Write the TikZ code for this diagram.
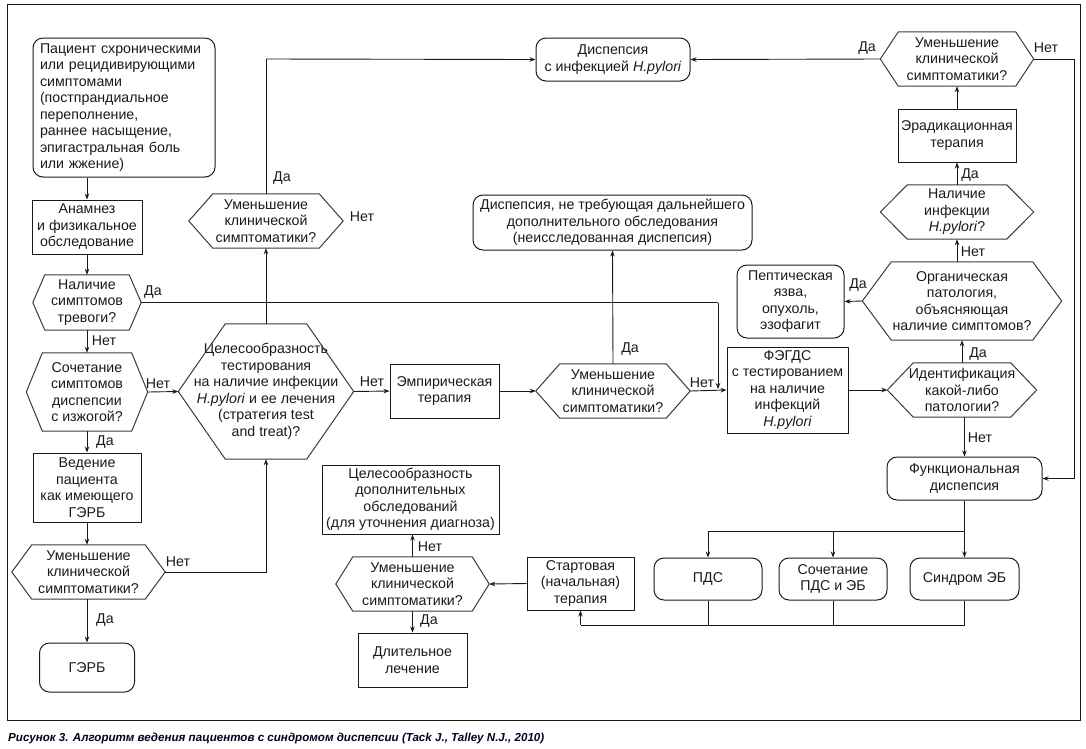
\documentclass[tikz,border=0pt]{standalone}
\usepackage{fontspec}
\setmainfont{Liberation Sans}
\usetikzlibrary{arrows.meta,calc}
\definecolor{ink}{HTML}{1A1A1A}
\definecolor{hexc}{HTML}{3A3A3A}
\newcommand\hexpath[2]{\draw[hexline] (#1.west) -- ($(#1.north west)+(#2pt,0)$) -- ($(#1.north east)+(-#2pt,0)$) -- (#1.east) -- ($(#1.south east)+(-#2pt,0)$) -- ($(#1.south west)+(#2pt,0)$) -- cycle;}
\begin{document}
\begin{tikzpicture}[x=1pt,y=-1pt,
  every node/.style={font=\fontsize{14.2}{16.5}\selectfont, inner sep=0pt, align=center, text=ink},
  box/.style={draw=ink, line width=1pt},
  rbox/.style={draw=ink, line width=1pt, rounded corners=10pt},
  hexn/.style={draw=none},
  hexline/.style={draw=hexc, line width=1pt},
  arr/.style={-{Stealth[length=6pt,width=4.5pt]}, line width=0.9pt, draw=ink},
  ln/.style={line width=0.9pt, draw=ink},
  lbl/.style={font=\fontsize{14.2}{16.5}\selectfont}
]
\useasboundingbox (0,0) rectangle (1086,748);
\draw[line width=1pt, draw=ink] (7,4) rectangle (1080,720);

% left column
\node[rbox, text width=168pt, align=left, inner xsep=7pt, minimum height=139pt] (p1) at (124,107.5)
 {Пациент схроническими\\или рецидивирующими\\симптомами\\(постпрандиальное\\переполнение,\\раннее насыщение,\\эпигастральная боль\\или жжение)};
\node[box, minimum width=110pt, minimum height=54pt] (anam) at (87,227) {Анамнез\\и физикальное\\обследование};
\node[hexn, minimum width=108pt, minimum height=55pt] (q1) at (87,302.5) {Наличие\\симптомов\\тревоги?};
\hexpath{q1}{12}
\node[hexn, minimum width=121pt, minimum height=78pt] (q2) at (87,392) {Сочетание\\симптомов\\диспепсии\\с изжогой?};
\hexpath{q2}{16}
\node[box, minimum width=108pt, minimum height=69pt] (gerd1) at (87,487.5) {Ведение\\пациента\\как имеющего\\ГЭРБ};
\node[hexn, minimum width=153pt, minimum height=54pt] (q3) at (88.5,572) {Уменьшение\\клинической\\симптоматики?};
\hexpath{q3}{20}
\node[rbox, minimum width=95pt, minimum height=49pt] (gerd2) at (87,667.5) {ГЭРБ};

% middle-left
\node[hexn, minimum width=175pt, minimum height=135pt] (tt) at (266,391.5) {Целесообразность\\тестирования\\на наличие инфекции\\\textit{H.pylori} и ее лечения\\(стратегия test\\and treat)?};
\hexpath{tt}{47}
\node[hexn, minimum width=154pt, minimum height=54pt] (q4) at (266,221) {Уменьшение\\клинической\\симптоматики?};
\hexpath{q4}{24}
\node[rbox, minimum width=154pt, minimum height=43pt] (hp) at (613,59.5) {Диспепсия\\с инфекцией \textit{H.pylori}};
\node[box, minimum width=109pt, minimum height=54pt] (emp) at (444.5,391) {Эмпирическая\\терапия};
\node[hexn, minimum width=154pt, minimum height=54pt] (q5) at (613,391) {Уменьшение\\клинической\\симптоматики?};
\hexpath{q5}{24}
\node[rbox, minimum width=279pt, minimum height=55pt] (und) at (612.5,222.5) {Диспепсия, не требующая дальнейшего\\дополнительного обследования\\(неисследованная диспепсия)};

% right part
\node[box, minimum width=121pt, minimum height=86pt] (fegds) at (787.5,390) {ФЭГДС\\с тестированием\\на наличие\\инфекций\\\textit{H.pylori}};
\node[hexn, minimum width=149pt, minimum height=54pt] (q6) at (962,390) {Идентификация\\какой-либо\\патологии?};
\hexpath{q6}{26}
\node[hexn, minimum width=199pt, minimum height=78pt] (q7) at (962,301) {Органическая\\патология,\\объясняющая\\наличие симптомов?};
\hexpath{q7}{29}
\node[rbox, minimum width=107pt, minimum height=73pt] (pep) at (790.5,301.5) {Пептическая\\язва,\\опухоль,\\эзофагит};
\node[hexn, minimum width=153pt, minimum height=54pt] (q8) at (957,212) {Наличие\\инфекции\\\textit{H.pylori}?};
\hexpath{q8}{27}
\node[box, minimum width=118pt, minimum height=53pt] (erad) at (957,135.5) {Эрадикационная\\терапия};
\node[hexn, minimum width=153pt, minimum height=54pt] (q9) at (957,59) {Уменьшение\\клинической\\симптоматики?};
\hexpath{q9}{18}
\node[rbox, minimum width=155pt, minimum height=43pt] (fd) at (964.5,478.5) {Функциональная\\диспепсия};
\node[rbox, minimum width=108pt, minimum height=42pt] (pds) at (708,579) {ПДС};
\node[rbox, minimum width=108pt, minimum height=42pt] (comb) at (833,579) {Сочетание\\ПДС и ЭБ};
\node[rbox, minimum width=109pt, minimum height=42pt] (eb) at (964.5,579) {Синдром ЭБ};

% bottom middle
\node[box, minimum width=107pt, minimum height=53pt] (start) at (580.5,583.5) {Стартовая\\(начальная)\\терапия};
\node[hexn, minimum width=153pt, minimum height=54pt] (q10) at (412.5,584) {Уменьшение\\клинической\\симптоматики?};
\hexpath{q10}{17}
\node[box, minimum width=177pt, minimum height=69pt] (extra) at (410.5,499.5) {Целесообразность\\дополнительных\\обследований\\(для уточнения диагноза)};
\node[box, minimum width=109pt, minimum height=54pt] (long) at (412.5,660) {Длительное\\лечение};

% coordinates
\coordinate (j1) at (718,302.5);
\coordinate (j1e) at (718,389);
\coordinate (j2) at (266,59);
\coordinate (j3) at (1074,59);
\coordinate (j4) at (1074,478.5);
\coordinate (b1) at (964.5,531);
\coordinate (b2) at (964.5,625);
\coordinate (b3) at (580.5,625);

% connectors
\draw[arr] (p1.south -| anam.north) -- (anam.north);
\draw[arr] (anam.south) -- (q1.north);
\draw[arr] (q1.south) -- (q2.north);
\draw[arr] (q2.south) -- (gerd1.north);
\draw[arr] (gerd1.south) -- (q3.north -| gerd1.south);
\draw[arr] (q3.south -| gerd1.south) -- (gerd2.north);
\draw[arr] (q3.east) -| (tt.south);
\draw[arr] (q2.east) -- (tt.west);
\draw[ln] (q1.east) -- (j1);
\draw[arr] (j1) -- (j1e);
\draw[arr] (tt.north) -- (q4.south);
\draw[ln] (q4.north) -- (j2);
\draw[arr] (j2) -- (hp.west);
\draw[arr] (tt.east) -- (emp.west);
\draw[arr] (emp.east) -- (q5.west);
\draw[arr] (q5.north) -- (und.south);
\draw[arr] (q5.east) -- (fegds.west);
\draw[arr] (fegds.east) -- (q6.west);
\draw[arr] (q6.north) -- (q7.south);
\draw[arr] (q7.west) -- (pep.east);
\draw[arr] (q8.south |- q7.north) -- (q8.south);
\draw[arr] (q8.north) -- (erad.south);
\draw[arr] (erad.north) -- (q9.south);
\draw[arr] (q9.west) -- (hp.east);
\draw[ln] (q9.east) -- (j3) -- (j4);
\draw[arr] (j4) -- (fd.east);
\draw[arr] (q6.south -| fd.north) -- (fd.north);
\draw[ln] (fd.south) -- (b1);
\draw[arr] (b1) -- (eb.north);
\draw[arr] (b1) -| (pds.north);
\draw[arr] (comb.north |- b1) -- (comb.north);
\draw[ln] (pds.south) -- (pds.south |- b2);
\draw[ln] (comb.south) -- (comb.south |- b2);
\draw[ln] (eb.south) -- (b2) -- (b3);
\draw[arr] (b3) -- (start.south);
\draw[arr] (start.west) -- (q10.east);
\draw[arr] (q10.north) -- (extra.south -| q10.north);
\draw[arr] (q10.south) -- (long.north);

% labels
\node[lbl] (l1) at (104,341) {Нет};
\node[lbl] (l2) at (158,384) {Нет};
\node[lbl] (l3) at (105,442) {Да};
\node[lbl] (l4) at (153,292) {Да};
\node[lbl] (l5) at (178,562) {Нет};
\node[lbl] (l6) at (105,620) {Да};
\node[lbl] (l7) at (282,178) {Да};
\node[lbl] (l8) at (362,217) {Нет};
\node[lbl] (l9) at (372,382) {Нет};
\node[lbl] (l10) at (630,349) {Да};
\node[lbl] (l11) at (702,383) {Нет};
\node[lbl] (l12) at (978,354) {Да};
\node[lbl] (l13) at (858,285) {Да};
\node[lbl] (l14) at (973,252) {Нет};
\node[lbl] (l15) at (970,175) {Да};
\node[lbl] (l16) at (867,48) {Да};
\node[lbl] (l17) at (1046,48) {Нет};
\node[lbl] (l18) at (980,438) {Нет};
\node[lbl] (l19) at (430,547) {Нет};
\node[lbl] (l20) at (429,621) {Да};

\node[anchor=west, font=\fontsize{11.6}{14}\selectfont\bfseries\itshape, text=black!85!blue] (cap) at (8,738)
 {Рисунок 3. Алгоритм ведения пациентов с синдромом диспепсии (Tack J., Talley N.J., 2010)};
\end{tikzpicture}
\end{document}
